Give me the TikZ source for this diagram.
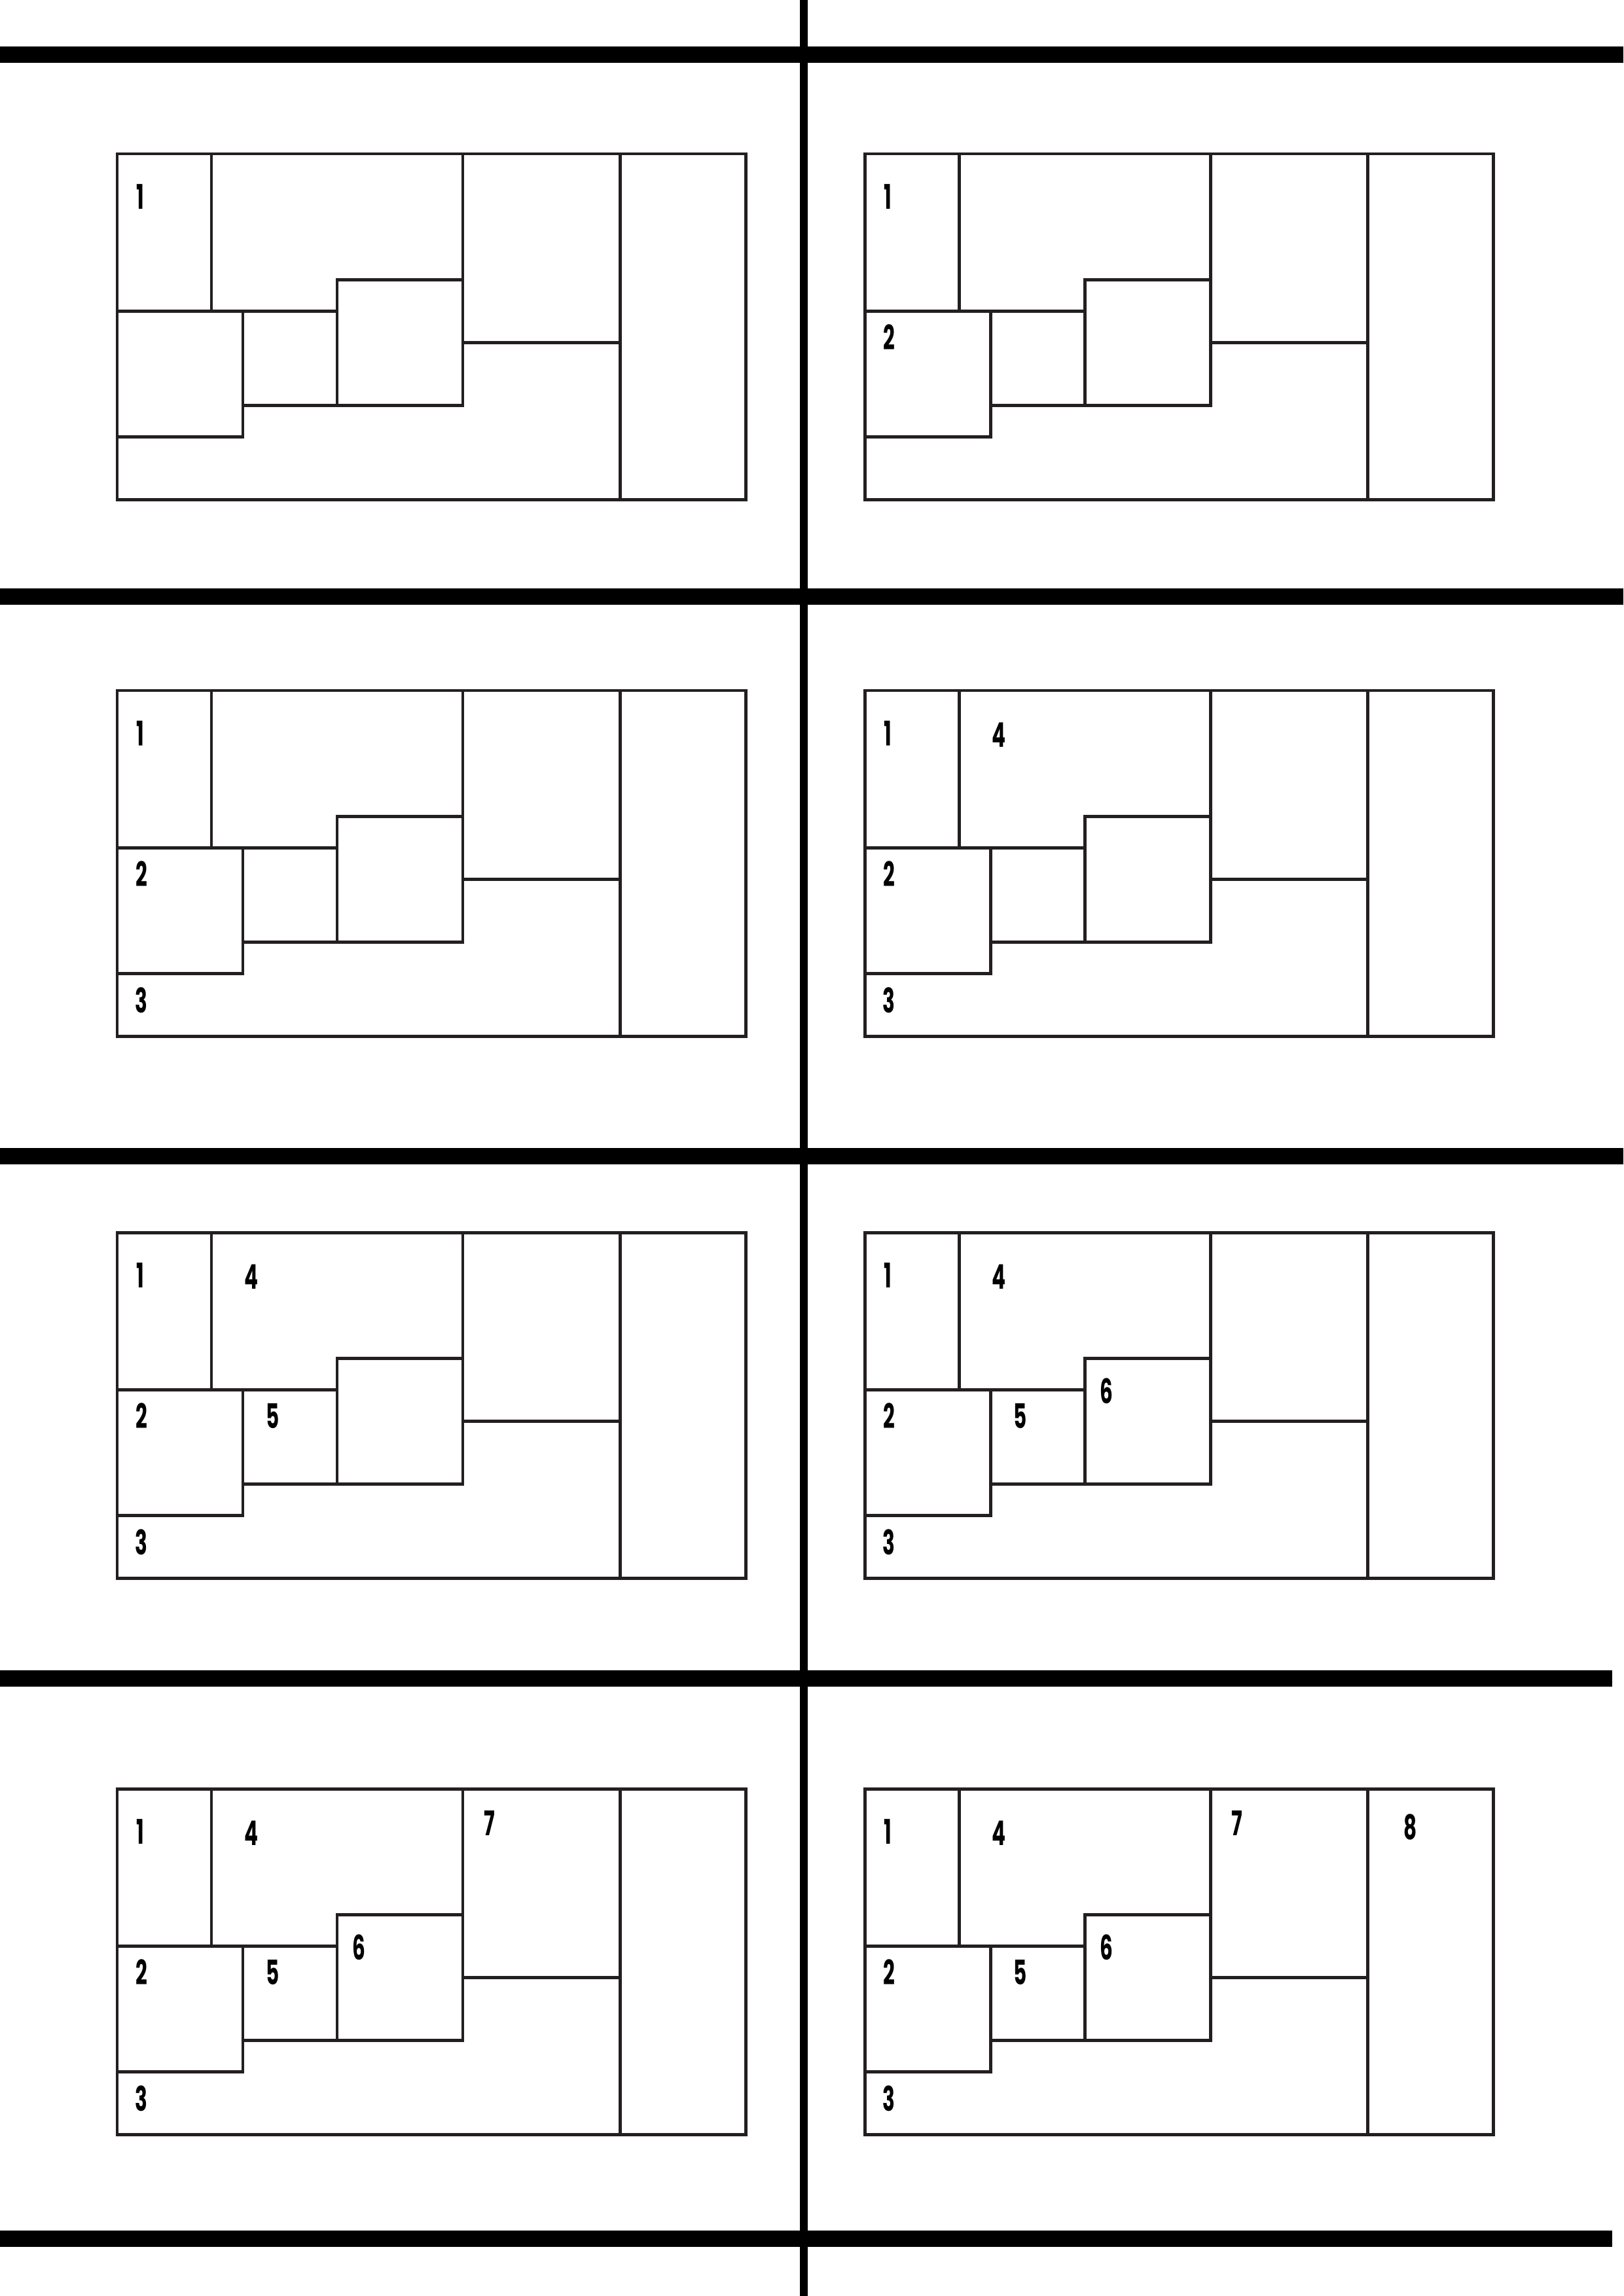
\documentclass[tikz,border=0pt]{standalone}
\usepackage{fontspec}
\usepackage{xcolor}
\usepackage{tikz}
\newfontfamily\sofont{Poppins}[FakeStretch=0.6]
\definecolor{vien}{RGB}{35,31,32}

\begin{document}
\begin{tikzpicture}[x=0.4064cm, y=-0.4064cm,
    cell/.style={draw=vien, line width=1.2pt, line join=miter},
    ke/.style={line width=6pt},
    num/.style={inner sep=0pt, font=\sofont\bfseries\fontsize{12.5}{12.5}\selectfont}]
    \useasboundingbox (0,0) rectangle (51.667,73.083);

    % Các đường kẻ ngang, dọc
    \draw[ke] (0,1.735) -- (51.667,1.735);
    \draw[ke] (0,18.99) -- (51.667,18.99);
    \draw[ke] (0,36.80) -- (51.667,36.80);
    \draw[ke] (0,53.42) -- (51.31,53.42);
    \draw[ke] (0,71.26) -- (51.31,71.26);
    \draw[line width=3.1pt] (25.583,0) -- (25.583,73.083);

    % Vẽ 8 hình chữ nhật
    \foreach \px/\py [count=\i] in {3.729/4.896, 27.521/4.896, 3.729/21.979, 27.521/21.979,
                                    3.729/39.229, 27.521/39.229, 3.729/56.938, 27.521/56.938}
    {
    \begin{scope}[shift={(\px,\py)}]
        \draw[cell] (0,0) rectangle (20,11);
        \draw[cell] (3,0) -- (3,5);
        \draw[cell] (0,5) -- (7,5);
        \draw[cell] (7,4) rectangle (11,8);
        \draw[cell] (11,0) -- (11,4);
        \draw[cell] (11,6) -- (16,6);
        \draw[cell] (16,0) -- (16,11);
        \draw[cell] (0,9) -| (4,5);
        \draw[cell] (4,8) -- (7,8);
        % Đánh số các ô
        \foreach \k/\lx/\ly in {1/0.73/1.37, 2/0.77/5.84, 3/0.77/9.85, 4/4.28/1.41,
                                5/4.94/5.84, 6/7.69/5.04, 7/11.85/1.10, 8/17.36/1.21}
        {
            \ifnum\k>\i\relax\else
                \node[num] (p\i-\k) at (\lx,\ly) {\k};
            \fi
        }
    \end{scope}
    }
\end{tikzpicture}
\end{document}
